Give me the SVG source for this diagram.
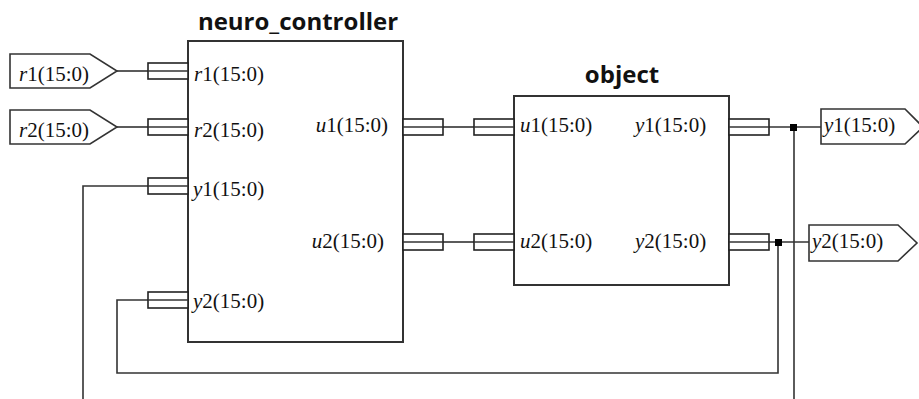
<svg xmlns="http://www.w3.org/2000/svg" width="919" height="399" viewBox="0 0 919 399">
  <style>
    .box { fill: #fff; stroke: #333; stroke-width: 2; }
    .wire { fill: none; stroke: #333; stroke-width: 1.6; }
    .stub { fill: #fff; stroke: #222; stroke-width: 1.6; }
    .port { fill: #fff; stroke: #333; stroke-width: 1.6; }
    .lbl { font-family: "Liberation Serif", "Times New Roman", serif; font-size: 21px; fill: #111; }
    .title { font-family: "Open Sans", "Liberation Sans", sans-serif; font-weight: bold; font-size: 24px; fill: #111; }
    .dot { fill: #000; }
  </style>
  <defs>
    <!-- bus stub: 40x16 rectangle with the wire through its middle -->
    <g id="stub">
      <rect class="stub" x="0" y="-8" width="40" height="16"/>
      <line class="wire" x1="0" y1="0" x2="40" y2="0"/>
    </g>
  </defs>

  <rect width="919" height="399" fill="#fff"/>

  <!-- connectors -->
  <g id="connectors">
    <line class="wire" x1="117" y1="71" x2="148" y2="71"/>
    <line class="wire" x1="117" y1="127" x2="148" y2="127"/>
    <line class="wire" x1="443" y1="127" x2="474" y2="127"/>
    <line class="wire" x1="443" y1="242" x2="474" y2="242"/>
    <line class="wire" x1="769" y1="127" x2="821" y2="127"/>
    <line class="wire" x1="769" y1="242" x2="809" y2="242"/>
    <!-- y1 feedback -->
    <polyline class="wire" points="794,127 794,405"/>
    <polyline class="wire" points="83,405 83,186 148,186"/>
    <!-- y2 feedback -->
    <polyline class="wire" points="778,242 778,373 117,373 117,300 148,300"/>
    <rect class="dot" x="790" y="124" width="7" height="7"/>
    <rect class="dot" x="775" y="239" width="7" height="7"/>
  </g>

  <!-- input ports -->
  <g id="in_r1">
    <polygon class="port" points="10,54 90,54 117,71 90,88 10,88"/>
    <text class="lbl" x="19" y="81"><tspan font-style="italic">r</tspan>1(15:0)</text>
  </g>
  <g id="in_r2">
    <polygon class="port" points="10,110 90,110 117,127 90,144 10,144"/>
    <text class="lbl" x="19" y="137"><tspan font-style="italic">r</tspan>2(15:0)</text>
  </g>

  <!-- neuro_controller -->
  <g id="neuro_controller">
    <text class="title" x="298" y="30" text-anchor="middle">neuro_controller</text>
    <rect class="box" x="188" y="41" width="215" height="301"/>
    <use href="#stub" x="148" y="71"/>
    <use href="#stub" x="148" y="127"/>
    <use href="#stub" x="148" y="186"/>
    <use href="#stub" x="148" y="300"/>
    <use href="#stub" x="403" y="127"/>
    <use href="#stub" x="403" y="242"/>
    <text class="lbl" x="194" y="81"><tspan font-style="italic">r</tspan>1(15:0)</text>
    <text class="lbl" x="194" y="137"><tspan font-style="italic">r</tspan>2(15:0)</text>
    <text class="lbl" x="193" y="196"><tspan font-style="italic">y</tspan>1(15:0)</text>
    <text class="lbl" x="193" y="308"><tspan font-style="italic">y</tspan>2(15:0)</text>
    <text class="lbl" x="388" y="132" text-anchor="end"><tspan font-style="italic">u</tspan>1(15:0)</text>
    <text class="lbl" x="384" y="248" text-anchor="end"><tspan font-style="italic">u</tspan>2(15:0)</text>
  </g>

  <!-- object -->
  <g id="object">
    <text class="title" x="622" y="83" text-anchor="middle">object</text>
    <rect class="box" x="514" y="96" width="215" height="189"/>
    <use href="#stub" x="474" y="127"/>
    <use href="#stub" x="474" y="242"/>
    <use href="#stub" x="729" y="127"/>
    <use href="#stub" x="729" y="242"/>
    <text class="lbl" x="520" y="132"><tspan font-style="italic">u</tspan>1(15:0)</text>
    <text class="lbl" x="520" y="248"><tspan font-style="italic">u</tspan>2(15:0)</text>
    <text class="lbl" x="635" y="132"><tspan font-style="italic">y</tspan>1(15:0)</text>
    <text class="lbl" x="635" y="248"><tspan font-style="italic">y</tspan>2(15:0)</text>
  </g>

  <!-- output ports -->
  <g id="out_y1">
    <polygon class="port" points="821,109 905,109 923,127 905,144 821,144"/>
    <text class="lbl" x="824" y="132"><tspan font-style="italic">y</tspan>1(15:0)</text>
  </g>
  <g id="out_y2">
    <polygon class="port" points="809,225 898,225 917,243 898,261 809,261"/>
    <text class="lbl" x="812" y="248"><tspan font-style="italic">y</tspan>2(15:0)</text>
  </g>
</svg>
